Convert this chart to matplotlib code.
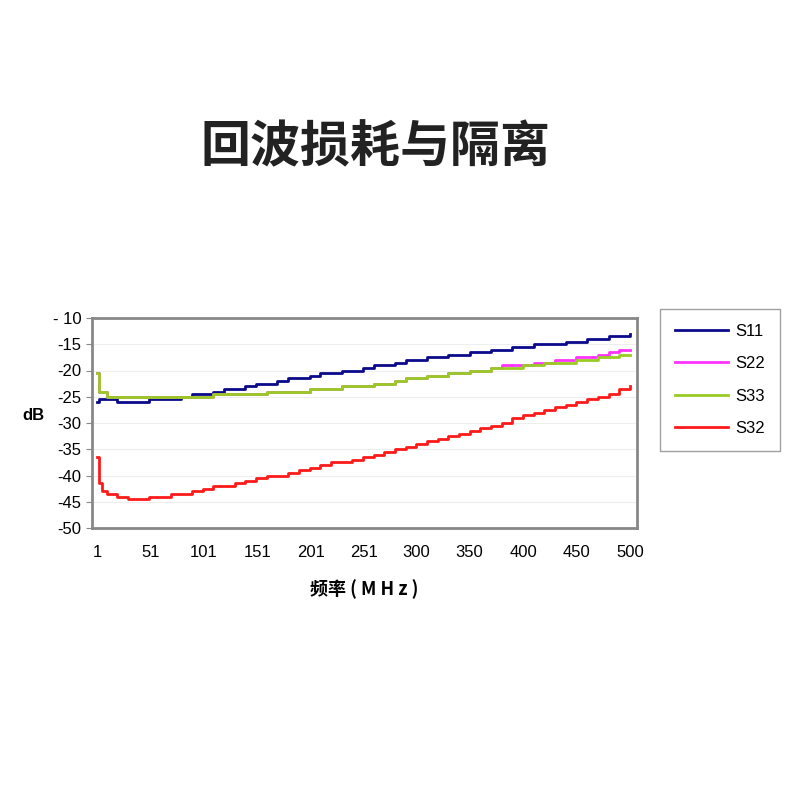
import matplotlib
matplotlib.use("Agg")
import matplotlib.pyplot as plt

plt.rcParams['font.family'] = ['Liberation Sans', 'Noto Sans CJK SC']

x = [1, 3] + list(range(10, 501, 10))
s11 = [-26, -25.5, -25.5, -26, -26, -26, -25.5, -25.5, -25.5, -25, -24.5, -24.5,
       -24, -23.5, -23.5, -23, -22.5, -22.5, -22, -21.5, -21.5, -21, -20.5, -20.5,
       -20, -20, -19.5, -19, -19, -18.5, -18, -18, -17.5, -17.5, -17, -17, -16.5,
       -16.5, -16, -16, -15.5, -15.5, -15, -15, -15, -14.5, -14.5, -14, -14, -13.5,
       -13.5, -13]
s33 = [-20.5, -24, -25, -25, -25, -25, -25, -25, -25, -25, -25, -25,
       -24.5, -24.5, -24.5, -24.5, -24.5, -24, -24, -24, -24, -23.5, -23.5, -23.5,
       -23, -23, -23, -22.5, -22.5, -22, -21.5, -21.5, -21, -21, -20.5, -20.5, -20,
       -20, -19.5, -19.5, -19.5, -19, -19, -18.5, -18.5, -18.5, -18, -18, -17.5, -17.5,
       -17, -17]
s22 = [-20.5, -24, -25, -25, -25, -25, -25, -25, -25, -25, -25, -25,
       -24.5, -24.5, -24.5, -24.5, -24.5, -24, -24, -24, -24, -23.5, -23.5, -23.5,
       -23, -23, -23, -22.5, -22.5, -22, -21.5, -21.5, -21, -21, -20.5, -20.5, -20,
       -20, -19.5, -19, -19, -19, -18.5, -18.5, -18, -18, -17.5, -17.5, -17, -16.5,
       -16, -16]
x32 = [1, 3, 6] + list(range(10, 501, 10))
s32 = [-36.5, -41.5, -43, -43.5, -44, -44.5, -44.5, -44, -44, -43.5, -43.5, -43,
       -42.5, -42, -42, -41.5, -41, -40.5, -40, -40, -39.5, -39, -38.5, -38, -37.5,
       -37.5, -37, -36.5, -36, -35.5, -35, -34.5, -34, -33.5, -33, -32.5, -32, -31.5,
       -31, -30.5, -30, -29, -28.5, -28, -27.5, -27, -26.5, -26, -25.5, -25, -24.5,
       -23.5, -23]
xticks = [1, 51, 101, 151, 201, 251, 300, 350, 400, 450, 500]
yticks = [-10, -15, -20, -25, -30, -35, -40, -45, -50]
ylabels = ['- 10', '-15', '-20', '-25', '-30', '-35', '-40', '-45', '-50']

fig = plt.figure(figsize=(8, 8), dpi=100)
fig.patch.set_facecolor('white')
ax = fig.add_axes([0.115, 0.34, 0.681, 0.2625])
ax.plot(x, s11, drawstyle='steps-post', color='#0a0a8a', lw=2, label='S11')
ax.plot(x, s22, drawstyle='steps-post', color='#ff33ff', lw=2, label='S22')
ax.plot(x, s33, drawstyle='steps-post', color='#99cc22', lw=2, label='S33')
ax.plot(x32, s32, drawstyle='steps-post', color='#ff1a1a', lw=2, label='S32')
ax.set_xlim(-3.7, 506.5)
ax.set_ylim(-50, -10)
ax.set_xticks(xticks)
ax.set_xticklabels([str(t) for t in xticks], fontsize=12)
ax.set_yticks(yticks)
ax.set_yticklabels(ylabels, fontsize=12)
ax.tick_params(axis='x', length=0, pad=12)
ax.tick_params(axis='y', length=4, color='#888888')
ax.grid(axis='y', color='#eeeeee', lw=0.8)
for s in ax.spines.values():
    s.set_color('#888888')
    s.set_linewidth(2)
ax.set_ylabel('dB', fontsize=12, fontweight='bold', rotation=0, labelpad=14)
ax.set_xlabel('频率 ( M H z )', fontsize=13, fontweight='bold', labelpad=14,
              family=['Noto Sans CJK SC', 'DejaVu Sans'])
fig.text(0.47, 0.815, '回波损耗与隔离', fontsize=36, ha='center', va='center',
         color='#222222', fontweight='bold', family=['Noto Sans CJK SC', 'DejaVu Sans'])
fig.legend(loc='center', bbox_to_anchor=(0.9, 0.525), frameon=True, fontsize=12,
           edgecolor='#888888', fancybox=False, handlelength=3.2, labelspacing=1.05,
           borderpad=0.9, handletextpad=0.4)
fig.savefig('out.png', dpi=100, facecolor='white')
